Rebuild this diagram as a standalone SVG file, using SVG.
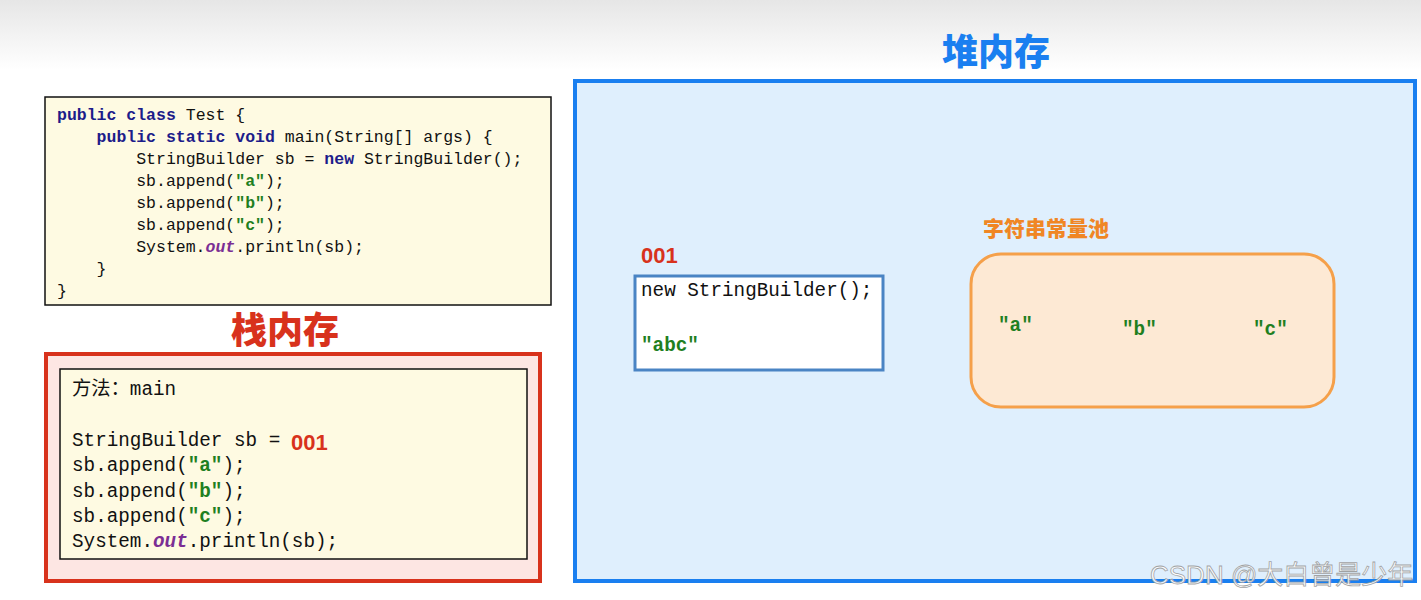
<svg xmlns="http://www.w3.org/2000/svg" width="1421" height="600" viewBox="0 0 1421 600">
<defs>
<linearGradient id="topg" x1="0" y1="0" x2="0" y2="1">
<stop offset="0" stop-color="#e6e6e6"/>
<stop offset="1" stop-color="#ffffff"/>
</linearGradient>
<style>
.code{font-family:"Liberation Mono","DejaVu Sans Mono",monospace;font-size:16.5px;fill:#111;}
.big{font-family:"Liberation Mono","DejaVu Sans Mono",monospace;font-size:19.3px;fill:#111;}
.kw{font-weight:bold;fill:#1c1c8a;}
.str{font-weight:bold;fill:#1f7f1f;}
.out{font-weight:bold;font-style:italic;fill:#7b2e94;}
.title{font-family:"Noto Sans CJK SC","Noto Sans",sans-serif;font-weight:900;}
.addr{font-family:"Liberation Sans","Noto Sans",sans-serif;font-weight:bold;font-size:22px;fill:#d8321c;}
.cn{font-family:"Noto Sans CJK SC",sans-serif;}
</style>
</defs>
<rect x="0" y="0" width="1421" height="600" fill="#ffffff"/>
<rect x="0" y="0" width="1421" height="70" fill="url(#topg)"/>

<g id="source-code">
<rect x="45" y="97" width="506" height="208" fill="#fefae2" stroke="#111" stroke-width="1.5"/>
<text class="code" x="57" y="120"><tspan class="kw">public class</tspan> Test {</text>
<text class="code" x="57" y="142" xml:space="preserve">    <tspan class="kw">public static void</tspan> main(String[] args) {</text>
<text class="code" x="57" y="164" xml:space="preserve">        StringBuilder sb = <tspan class="kw">new</tspan> StringBuilder();</text>
<text class="code" x="57" y="186" xml:space="preserve">        sb.append(<tspan class="str">"a"</tspan>);</text>
<text class="code" x="57" y="208" xml:space="preserve">        sb.append(<tspan class="str">"b"</tspan>);</text>
<text class="code" x="57" y="230" xml:space="preserve">        sb.append(<tspan class="str">"c"</tspan>);</text>
<text class="code" x="57" y="252" xml:space="preserve">        System.<tspan class="out">out</tspan>.println(sb);</text>
<text class="code" x="57" y="274" xml:space="preserve">    }</text>
<text class="code" x="57" y="296">}</text>
</g>

<g id="stack">
<text class="title" x="285" y="343" font-size="36" fill="#d8321c" text-anchor="middle">栈内存</text>
<rect x="46" y="354" width="494" height="227" fill="#fde6e3" stroke="#d8321c" stroke-width="4"/>
<rect x="60" y="369" width="467" height="190" fill="#fefae2" stroke="#111" stroke-width="1.5"/>
<text class="big" x="72" y="395"><tspan class="cn">方法：</tspan>main</text>
<text class="big" x="72" y="446" xml:space="preserve">StringBuilder sb = </text>
<text class="addr" x="291" y="450">001</text>
<text class="big" x="72" y="471">sb.append(<tspan class="str">"a"</tspan>);</text>
<text class="big" x="72" y="497">sb.append(<tspan class="str">"b"</tspan>);</text>
<text class="big" x="72" y="522">sb.append(<tspan class="str">"c"</tspan>);</text>
<text class="big" x="72" y="547">System.<tspan class="out">out</tspan>.println(sb);</text>
</g>

<g id="heap">
<text class="title" x="996" y="65" font-size="36" fill="#1a7ff0" text-anchor="middle">堆内存</text>
<rect x="575" y="81" width="840" height="500" fill="#dfeffd" stroke="#1a7ff0" stroke-width="4"/>
</g>

<g id="stringbuilder-object">
<text class="addr" x="641" y="263">001</text>
<rect x="635" y="276" width="248" height="94" fill="#ffffff" stroke="#4a84c4" stroke-width="3"/>
<text class="big" x="641" y="296">new StringBuilder();</text>
<text class="big str" x="641" y="351" font-size="18">"abc"</text>
</g>

<g id="string-pool">
<text class="title" x="983" y="236" font-size="21" fill="#f08624">字符串常量池</text>
<rect x="971" y="254" width="363" height="153" rx="30" ry="30" fill="#fde9d4" stroke="#f5a04a" stroke-width="3"/>
<text class="big str" x="998" y="331" font-size="17">"a"</text>
<text class="big str" x="1122" y="335" font-size="17">"b"</text>
<text class="big str" x="1253" y="335" font-size="17">"c"</text>
</g>

<g id="connectors"></g>

<text x="1150" y="584" font-family="Liberation Sans,Noto Sans CJK SC,sans-serif" font-size="26" fill="#ffffff" stroke="#9a9a9a" stroke-width="0.8" opacity="0.9">CSDN @<tspan font-family="Noto Sans CJK SC,sans-serif">大白曾是少年</tspan></text>
</svg>
